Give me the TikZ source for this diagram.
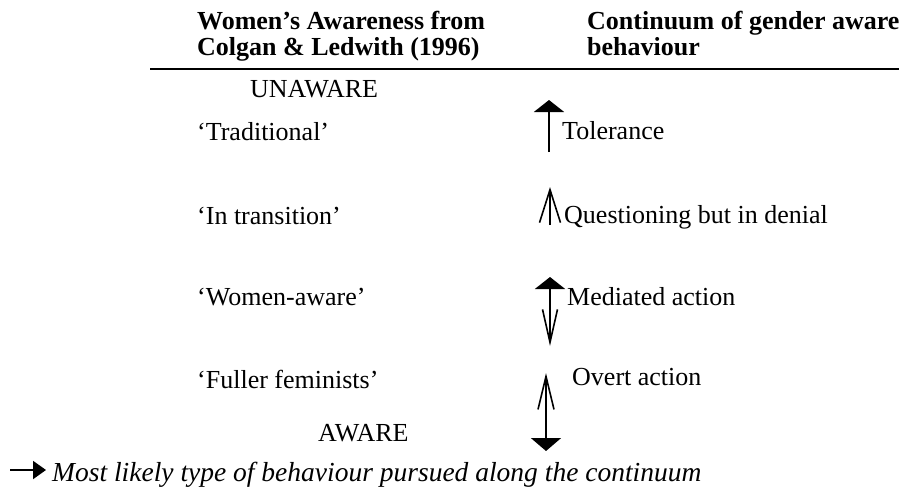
\documentclass[tikz,border=0pt]{standalone}
\usepackage{fontspec}
\setmainfont{Liberation Serif}
\usetikzlibrary{arrows.meta}
\begin{document}
\begin{tikzpicture}[x=1pt,y=-1pt,
  txt/.style={inner sep=0pt, anchor=base west, font=\fontsize{26}{30}\selectfont},
  hdr/.style={txt, font=\fontsize{26}{30}\selectfont\bfseries},
  foot/.style={txt, font=\fontsize{27.5}{30}\selectfont\itshape},
  shaft/.style={line width=2pt},
]
\useasboundingbox[fill=white] (0,0) rectangle (899,487);
% headers
\node[hdr] (h1a) at (197,30) {Women’s Awareness from};
\node[hdr] (h1b) at (197,56) {Colgan \& Ledwith (1996)};
\node[hdr] (h2a) at (587,30) {Continuum of gender aware};
\node[hdr] (h2b) at (587,56) {behaviour};
\coordinate (rl) at (150,69);
\coordinate (rr) at (899,69);
\draw[line width=1.8pt] (rl) -- (rr);
% left column
\node[txt] (unaware) at (250,97) {UNAWARE};
\node[txt] (trad) at (197,140) {‘Traditional’};
\node[txt] (trans) at (197,224) {‘In transition’};
\node[txt] (waware) at (197,305) {‘Women-aware’};
\node[txt] (fuller) at (197,388) {‘Fuller feminists’};
\node[txt] (aware) at (318,441) {AWARE};
% right column
\node[txt] (tol) at (562,139) {Tolerance};
\node[txt] (ques) at (564,223) {Questioning but in denial};
\node[txt] (med) at (567,305) {Mediated action};
\node[txt] (overt) at (572,385) {Overt action};
% arrows
\coordinate (a1b) at (549,152);
\coordinate (a1t) at (549,100);
\draw[shaft, -{Triangle[width=30pt,length=12pt]}] (a1b) -- (a1t);
\coordinate (a2b) at (550,225);
\coordinate (a2t) at (550,187);
\draw[line width=1.6pt, -{Straight Barb[width=21pt,length=33pt,line width=1.6pt]}] (a2b) -- (a2t);
\coordinate (a3t) at (550,277);
\coordinate (a3b) at (550,346);
\draw[shaft, {Triangle[width=30pt,length=12pt]}-{Straight Barb[width=15pt,length=33pt,line width=1.6pt]}] (a3t) -- (a3b);
\coordinate (a4t) at (546,373);
\coordinate (a4b) at (546,451);
\draw[shaft, {Straight Barb[width=16pt,length=33pt,line width=1.6pt]}-{Triangle[width=30pt,length=13pt]}] (a4t) -- (a4b);
% footer
\coordinate (fl) at (10,470);
\coordinate (fr) at (46,470);
\draw[shaft, -{Triangle[width=18pt,length=13pt]}] (fl) -- (fr);
\node[foot] (note) at (52,481) {Most likely type of behaviour pursued along the continuum};
\end{tikzpicture}
\end{document}
